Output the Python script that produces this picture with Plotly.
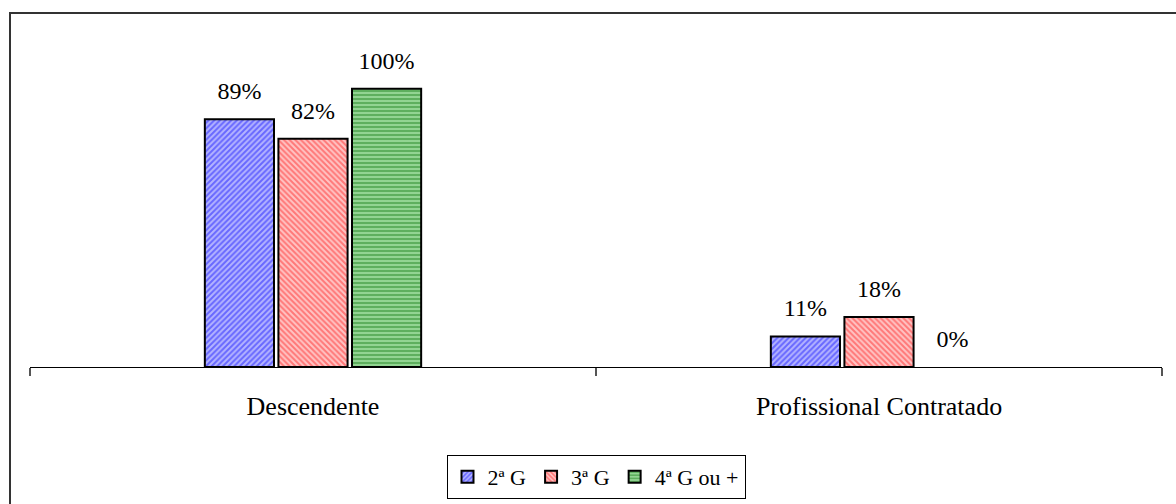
import plotly.graph_objects as go

categories = ["Descendente", "Profissional Contratado"]
series_names = ["2ª G", "3ª G", "4ª G ou +"]
values_2g = [0.89, 0.11]
values_3g = [0.82, 0.18]
values_4g = [1.00, 0.00]

series_values = [values_2g, values_3g, values_4g]
fg_colors = ["#1a1aff", "#ff2a2a", "#2a8a2a"]
bg_colors = ["#b4b4ff", "#ffc4c4", "#92d492"]
shapes_pat = ["/", "\\", "-"]

FONT = "Liberation Serif, Times New Roman, serif"

fig = go.Figure()
for i, (name, vals, fg, bg, sh) in enumerate(zip(series_names, series_values, fg_colors, bg_colors, shapes_pat)):
    fig.add_trace(go.Bar(
        x=categories, y=vals, name=name,
        offsetgroup=str(i), alignmentgroup="a",
        marker=dict(
            color=bg,
            line=dict(color="black", width=[2 if v > 0 else 0 for v in vals]),
            pattern=dict(shape=sh, fgcolor=fg, bgcolor=bg, size=4, solidity=0.5),
        ),
    ))
for i, vals in enumerate(series_values):
    fig.add_trace(go.Scatter(
        x=categories, y=vals, mode="markers+text",
        offsetgroup=str(i), alignmentgroup="a",
        text=[f"{round(v * 100)}%" for v in vals],
        textposition="top center",
        textfont=dict(family=FONT, size=24, color="black"),
        marker=dict(size=21, opacity=0),
        showlegend=False, hoverinfo="skip", cliponaxis=False,
    ))

fig.update_layout(
    width=1176, height=504,
    margin=dict(l=30, r=14, t=33, b=137),
    paper_bgcolor="white", plot_bgcolor="white",
    barmode="group", bargap=0.61, bargroupgap=0.06,
    scattermode="group", scattergap=0.61,
    font=dict(family=FONT, size=24, color="black"),
    showlegend=True,
    legend=dict(
        orientation="h", x=0.5, xanchor="center",
        yref="container", y=(504 - 455) / 504, yanchor="top",
        bordercolor="black", borderwidth=1, font=dict(family=FONT, size=22),
        itemwidth=30, tracegroupgap=0,
    ),
    xaxis=dict(
        showline=True, linecolor="black", linewidth=1,
        ticks="outside", ticklen=8, tickcolor="#555", tickwidth=2,
        tickson="boundaries", showgrid=False, automargin=False,
        tickfont=dict(family=FONT, size=26, color="black"),
        ticklabelstandoff=16,
    ),
    yaxis=dict(range=[0, 1.2], visible=False, showgrid=False, zeroline=False, automargin=False),
    shapes=[
        dict(type="rect", xref="paper", yref="paper",
             x0=(10 - 30) / 1132, x1=1.2, y0=-1, y1=(367 - 13) / 334,
             line=dict(color="#333", width=2), fillcolor="rgba(0,0,0,0)", layer="below"),
    ],
)

fig.write_html("out.html", config={"displayModeBar": False},
               post_script="document.body.style.margin='0';document.body.style.overflow='hidden';")
